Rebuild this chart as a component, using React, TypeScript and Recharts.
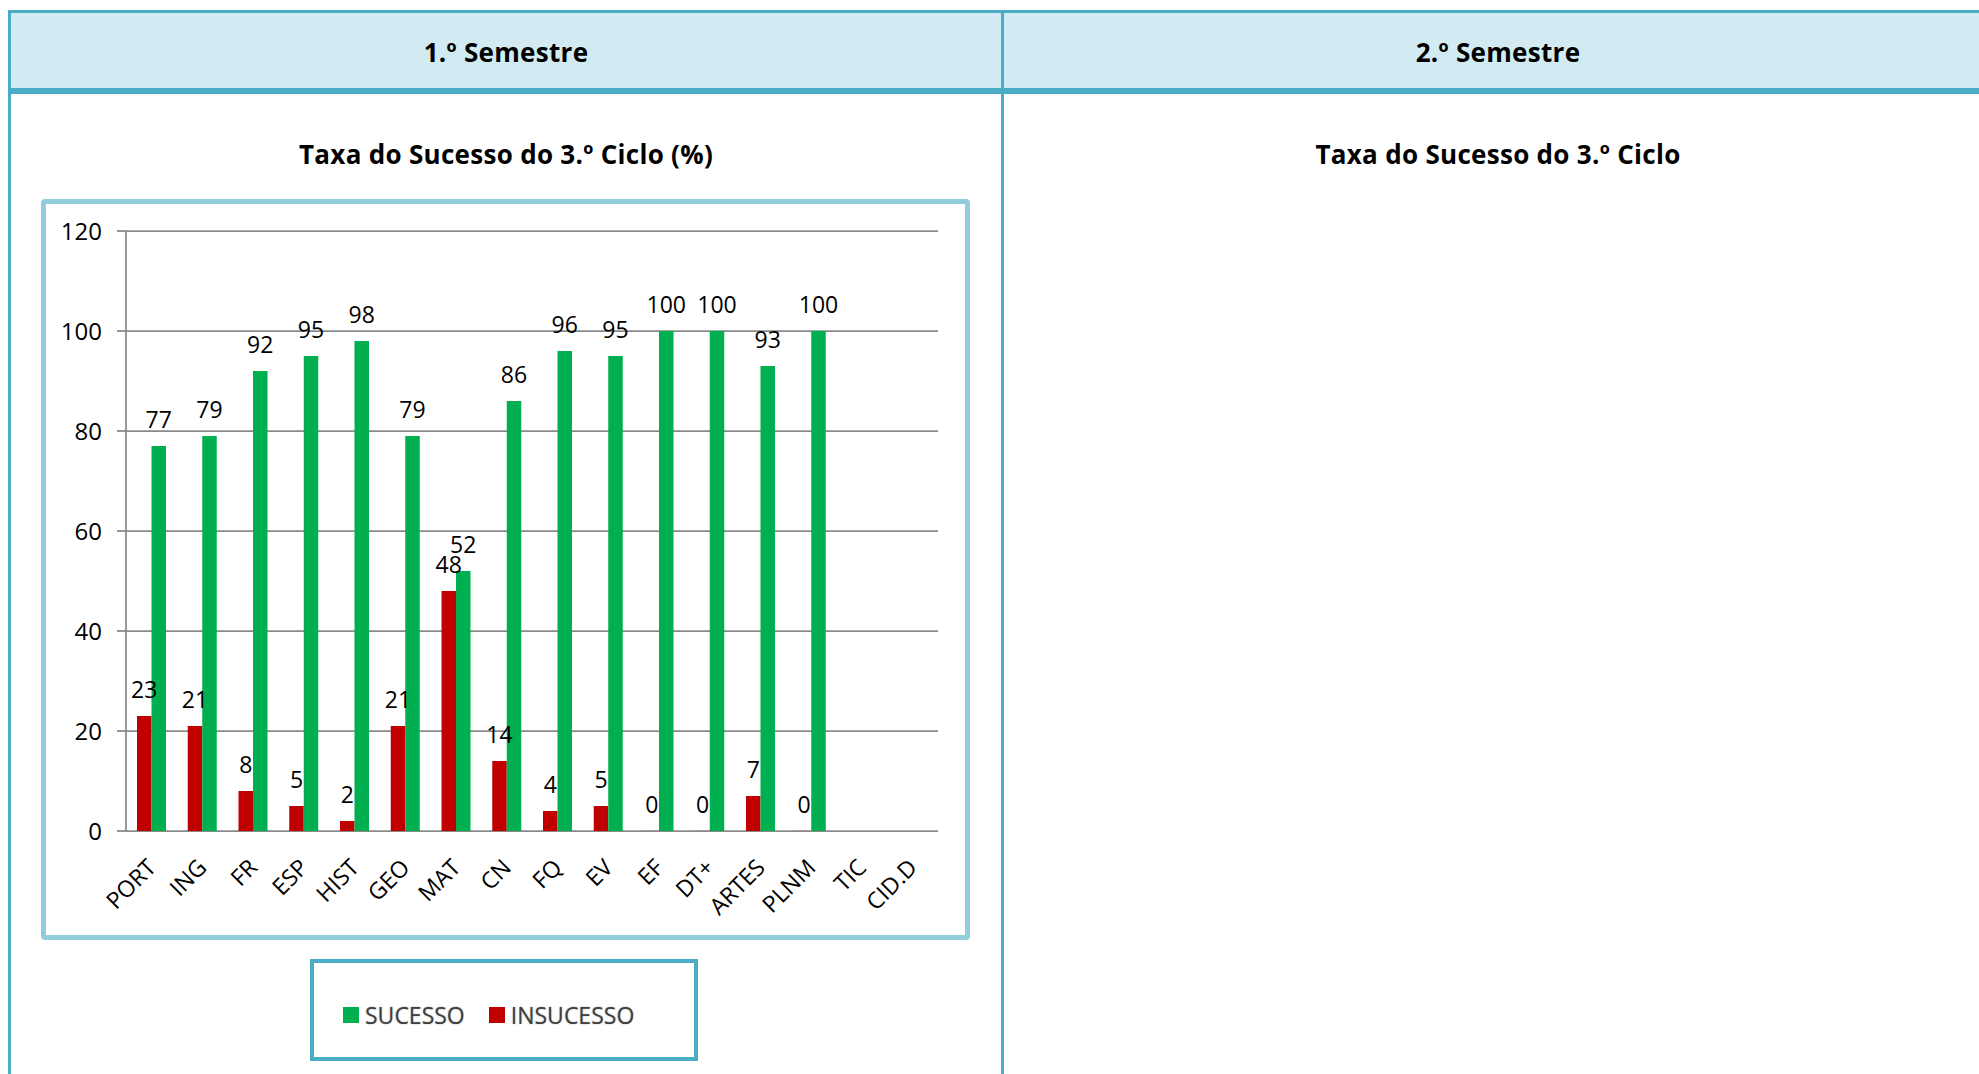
import React from "react";
import { Bar, BarChart, CartesianGrid, LabelList, Legend, XAxis, YAxis } from "recharts";

// subjects of the 3rd cycle
const categories = ["PORT", "ING", "FR", "ESP", "HIST", "GEO", "MAT", "CN", "FQ", "EV", "EF", "DT+", "ARTES", "PLNM", "TIC", "CID.D"];
// % of students with a positive grade
const sucesso = [77, 79, 92, 95, 98, 79, 52, 86, 96, 95, 100, 100, 93, 100, null, null];
// % of students with a negative grade
const insucesso = [23, 21, 8, 5, 2, 21, 48, 14, 4, 5, 0, 0, 7, 0, null, null];
const yTicks = [0, 20, 40, 60, 80, 100, 120];
const semesters = ["1.º Semestre", "2.º Semestre"];
const chartTitles = ["Taxa do Sucesso do 3.º Ciclo (%)", "Taxa do Sucesso do 3.º Ciclo"];
const legendOrder = ["SUCESSO", "INSUCESSO"];

const FONT = "'Open Sans', 'Noto Sans', sans-serif";
const BORDER = "#4BACC6";
const GRID = "#8a8a8a";
const GREEN = "#00B050";
const RED = "#C00000";

const data = categories.map((cat, i) => ({
  cat,
  SUCESSO: sucesso[i],
  INSUCESSO: insucesso[i],
}));

// tick positions on the category boundaries (0..n)
const boundaryTicks = categories.map((_, i) => i).concat(categories.length);

const CategoryTick = (props: any) => {
  const { x, y, payload } = props;
  const ax = x + 6;
  const ay = y + 38;
  return (
    <text
      x={ax}
      y={ay}
      transform={`rotate(-45, ${ax}, ${ay})`}
      textAnchor="end"
      fontSize={23}
      fontFamily={FONT}
      fill="#000"
    >
      {payload.value}
    </text>
  );
};

const LegendContent = (props: any) => {
  const items = [...(props.payload || [])].sort(
    (a: any, b: any) => legendOrder.indexOf(a.value) - legendOrder.indexOf(b.value)
  );
  return (
    <div
      style={{
        display: "flex",
        alignItems: "center",
        height: "100%",
        paddingLeft: 29,
        paddingTop: 10,
        boxSizing: "border-box",
        fontFamily: FONT,
        fontSize: 23,
        color: "#404040",
      }}
    >
      {items.map((it: any, i: number) => (
        <div key={it.value} style={{ display: "flex", alignItems: "center", marginRight: i === 0 ? 24 : 0 }}>
          <span style={{ width: 16, height: 16, background: it.color, display: "inline-block", marginRight: 6 }} />
          <span style={{ lineHeight: "23px", textShadow: "0 0 1.5px rgba(0,0,0,0.4)" }}>{it.value}</span>
        </div>
      ))}
    </div>
  );
};

const headText: React.CSSProperties = {
  position: "absolute",
  fontFamily: FONT,
  fontWeight: 700,
  fontSize: 26,
  letterSpacing: 0.3,
  color: "#000",
  textAlign: "center",
  transform: "translate(-50%, -50%)",
  whiteSpace: "nowrap",
};

export default function App() {
  return (
    <div style={{ position: "fixed", left: 0, top: 0, width: 1979, height: 1074, overflow: "hidden", background: "#fff" }}>
      {/* table header row */}
      <div
        style={{
          position: "absolute",
          left: 8,
          top: 10,
          width: 2010,
          height: 84,
          boxSizing: "border-box",
          background: "#D2EAF1",
          borderTop: `3px solid ${BORDER}`,
          borderLeft: `3px solid ${BORDER}`,
          borderBottom: `6px solid ${BORDER}`,
        }}
      />
      <div style={{ position: "absolute", left: 8, top: 94, width: 3, height: 1000, background: BORDER }} />
      <div style={{ position: "absolute", left: 1001, top: 10, width: 3, height: 1100, background: BORDER }} />

      <div style={{ ...headText, left: 506, top: 52 }}>{semesters[0]}</div>
      <div style={{ ...headText, left: 1498, top: 52 }}>{semesters[1]}</div>
      <div style={{ ...headText, left: 506, top: 154 }}>{chartTitles[0]}</div>
      <div style={{ ...headText, left: 1498, top: 154 }}>{chartTitles[1]}</div>

      {/* chart frame */}
      <div
        style={{
          position: "absolute",
          left: 41,
          top: 199,
          width: 929,
          height: 741,
          boxSizing: "border-box",
          border: "5px solid #93CDDD",
          borderRadius: 4,
        }}
      />

      <div style={{ position: "absolute", left: 41, top: 199 }}>
        <BarChart
          width={929}
          height={862}
          data={data}
          margin={{ top: 32, right: 32, bottom: 0, left: 0 }}
          barGap={0}
          barSize={14.5}
        >
          <CartesianGrid vertical={false} stroke={GRID} strokeWidth={1.75} xAxisId="cat" />
          <XAxis
            xAxisId="bounds"
            type="number"
            domain={[0, categories.length]}
            ticks={boundaryTicks}
            allowDataOverflow
            height={0}
            tick={false}
            tickSize={9}
            tickLine={{ stroke: GRID, strokeWidth: 1.75 }}
            axisLine={{ stroke: GRID, strokeWidth: 1.75 }}
          />
          <XAxis
            xAxisId="cat"
            dataKey="cat"
            interval={0}
            height={230}
            tickSize={0}
            tickMargin={0}
            tickLine={false}
            axisLine={false}
            tick={<CategoryTick />}
          />
          <YAxis
            width={85}
            domain={[0, 120]}
            ticks={yTicks}
            interval={0}
            tickSize={9}
            tickMargin={15}
            tickLine={{ stroke: GRID, strokeWidth: 1.75 }}
            axisLine={{ stroke: GRID, strokeWidth: 1.75 }}
            tick={{ fontSize: 24, fill: "#000", fontFamily: FONT }}
          />
          <Legend
            layout="horizontal"
            align="center"
            verticalAlign="middle"
            content={<LegendContent />}
            wrapperStyle={{
              left: 269,
              top: 760,
              width: 388,
              height: 102,
              border: `4px solid ${BORDER}`,
              boxSizing: "border-box",
              background: "#fff",
            }}
          />
          <Bar xAxisId="cat" dataKey="INSUCESSO" name="INSUCESSO" fill={RED} minPointSize={0.1} isAnimationActive={false}>
            <LabelList dataKey="INSUCESSO" position="top" offset={18} fontSize={23} fill="#000" fontFamily={FONT} />
          </Bar>
          <Bar xAxisId="cat" dataKey="SUCESSO" name="SUCESSO" fill={GREEN} isAnimationActive={false}>
            <LabelList dataKey="SUCESSO" position="top" offset={18} fontSize={23} fill="#000" fontFamily={FONT} />
          </Bar>
        </BarChart>
      </div>
    </div>
  );
}
